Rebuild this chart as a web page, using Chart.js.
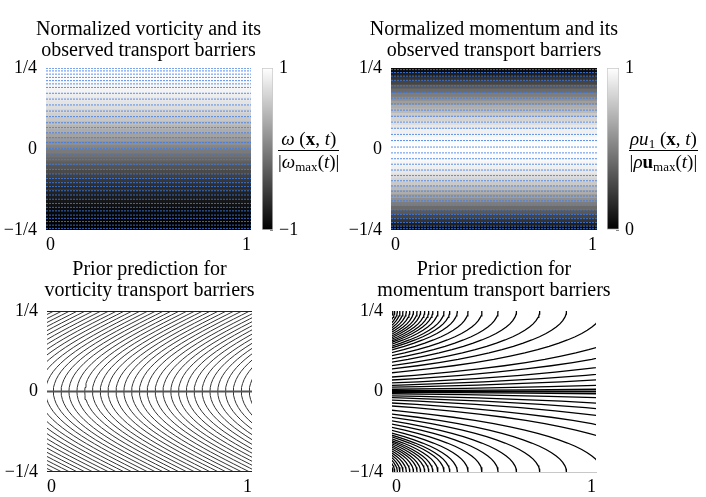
<!DOCTYPE html>
<html>
<head>
<meta charset="utf-8">
<script src="https://cdn.jsdelivr.net/npm/chart.js@4.4.1/dist/chart.umd.min.js"></script>
<style>
  body { margin: 0; background: #fff; }
  #fig { position: relative; width: 706px; height: 497px; font-family: "Liberation Serif", serif; color: #000; overflow: hidden; }
  canvas { position: absolute; }
  .frac { position: absolute; display: inline-block; text-align: center; font-size: 19px; line-height: 21px; white-space: nowrap; }
  .frac .num { border-bottom: 1px solid #000; padding: 0 1px 1px; }
  .frac sub { font-size: 13px; vertical-align: -3px; line-height: 0; }
  .frac b { font-weight: bold; }
</style>
</head>
<body>
<div id="fig">
  <canvas id="vortField" width="297" height="256" style="left:0;top:0"></canvas>
  <canvas id="vortBar" width="50" height="252" style="left:256px;top:0"></canvas>
  <canvas id="momField" width="298" height="256" style="left:345px;top:0"></canvas>
  <canvas id="momBar" width="40" height="252" style="left:601px;top:0"></canvas>
  <canvas id="vortPrior" width="299" height="247" style="left:0;top:250px"></canvas>
  <canvas id="momPrior" width="298" height="247" style="left:345px;top:250px"></canvas>

  <div class="frac" style="left:278px;top:128px">
    <div class="num"><i>ω</i> (<b>x</b>, <i>t</i>)</div>
    <div class="den">|<i>ω</i><sub>max</sub>(<i>t</i>)|</div>
  </div>
  <div class="frac" style="left:629px;top:128px">
    <div class="num"><i>ρu</i><sub>1</sub> (<b>x</b>, <i>t</i>)</div>
    <div class="den">|<i>ρ</i><b>u</b><sub>max</sub>(<i>t</i>)|</div>
  </div>
</div>
<script>
// axes
const xTicks = [0, 1];
const xTickLabels = ['0', '1'];
const yTicks = [-0.25, 0, 0.25];
const yTickLabels = ['\u22121/4', '0', '1/4'];

// rows of the two fields (row centres, bottom to top)
const rowY = [-0.24375, -0.23125, -0.21875, -0.20625, -0.19375, -0.18125, -0.16875, -0.15625, -0.14375, -0.13125,
  -0.11875, -0.10625, -0.09375, -0.08125, -0.06875, -0.05625, -0.04375, -0.03125, -0.01875, -0.00625,
  0.00625, 0.01875, 0.03125, 0.04375, 0.05625, 0.06875, 0.08125, 0.09375, 0.10625, 0.11875,
  0.13125, 0.14375, 0.15625, 0.16875, 0.18125, 0.19375, 0.20625, 0.21875, 0.23125, 0.24375];
const vortValues = [-1.00, -0.99, -0.98, -0.96, -0.94, -0.91, -0.87, -0.83, -0.79, -0.73,
  -0.68, -0.62, -0.56, -0.49, -0.42, -0.35, -0.27, -0.20, -0.12, -0.04,
  0.04, 0.12, 0.20, 0.27, 0.35, 0.42, 0.49, 0.56, 0.62, 0.68,
  0.73, 0.79, 0.83, 0.87, 0.91, 0.94, 0.96, 0.98, 0.99, 1.00];
const momValues = [0.04, 0.12, 0.20, 0.27, 0.35, 0.42, 0.49, 0.56, 0.62, 0.68,
  0.73, 0.79, 0.83, 0.87, 0.91, 0.94, 0.96, 0.98, 0.99, 1.00,
  1.00, 0.99, 0.98, 0.96, 0.94, 0.91, 0.87, 0.83, 0.79, 0.73,
  0.68, 0.62, 0.56, 0.49, 0.42, 0.35, 0.27, 0.20, 0.12, 0.04];

// observed barriers (blue dotted lines)
const vortObservedY = [0.249, 0.241, 0.231, 0.221, 0.211, 0.201, 0.190, 0.172, 0.154, 0.136, 0.117, 0.100,
  0.081, 0.066, 0.050, 0.035, 0.020, 0.002, -0.015, -0.032, -0.047, -0.063, -0.077, -0.091, -0.104,
  -0.116, -0.129, -0.142, -0.155, -0.168, -0.180, -0.191, -0.204, -0.214, -0.224, -0.235, -0.245];
const momObservedY = [0.245, 0.236, 0.225, 0.212, 0.195, 0.175, 0.157, 0.139, 0.120, 0.101, 0.083, 0.064,
  0.045, 0.026, 0.006, -0.012, -0.030, -0.047, -0.065, -0.082, -0.098, -0.114, -0.130, -0.145, -0.160,
  -0.174, -0.188, -0.202, -0.215, -0.227, -0.238, -0.246];

// colour bars (ticks with an empty label only get a small mark)
const vortRange = [-1, 1];
const vortBarTicks = [-1, -0.8, -0.6, -0.4, -0.2, 0, 0.2, 0.4, 0.6, 0.8, 1];
const vortBarLabels = ['\u22121', '', '', '', '', '', '', '', '', '', '1'];
const momRange = [0, 1];
const momBarTicks = [0, 0.1, 0.2, 0.3, 0.4, 0.5, 0.6, 0.7, 0.8, 0.9, 1];
const momBarLabels = ['0', '', '', '', '', '', '', '', '', '', '1'];

// prior vorticity barriers: shape of one curve [|y|, x shift] and where each crosses y = 0
const vortShape = [[0, 0], [0.0125, 0.0015], [0.025, 0.0062], [0.0375, 0.0138], [0.05, 0.0245], [0.0625, 0.038],
  [0.075, 0.0545], [0.0875, 0.0737], [0.1, 0.0955], [0.1125, 0.1198], [0.125, 0.1464], [0.1375, 0.1753],
  [0.15, 0.2061], [0.1625, 0.2388], [0.175, 0.273], [0.1875, 0.3087], [0.2, 0.3455], [0.2125, 0.3833],
  [0.225, 0.4218], [0.2375, 0.4608], [0.25, 0.5]];
const vortOffsets = [-0.504, -0.466, -0.427, -0.389, -0.351, -0.313, -0.275, -0.236, -0.198, -0.160, -0.122,
  -0.084, -0.045, -0.007, 0.031, 0.069, 0.107, 0.146, 0.184, 0.222, 0.260, 0.298, 0.337, 0.375, 0.413,
  0.451, 0.489, 0.528, 0.566, 0.604, 0.642, 0.680, 0.718, 0.757, 0.795, 0.833, 0.871, 0.909, 0.948, 0.987];
const vortWalls = [-0.25, 0.25];
const vortCentre = [0];

// prior momentum barriers: shape of one curve [|y|, x shift] and where each meets the wall
const momShape = [[0.0005, -5.76], [0.001, -5.07], [0.002, -4.38], [0.003, -3.97], [0.005, -3.46], [0.007, -3.12],
  [0.01, -2.77], [0.015, -2.36], [0.02, -2.08], [0.03, -1.67], [0.04, -1.39], [0.05, -1.17], [0.06, -1.0],
  [0.07, -0.854], [0.08, -0.73], [0.09, -0.624], [0.1, -0.531], [0.11, -0.451], [0.12, -0.379], [0.13, -0.316],
  [0.14, -0.26], [0.15, -0.212], [0.16, -0.17], [0.17, -0.132], [0.18, -0.1], [0.19, -0.073], [0.2, -0.05],
  [0.21, -0.032], [0.22, -0.018], [0.23, -0.008], [0.235, -0.0044], [0.24, -0.002], [0.245, -0.0005], [0.25, 0]];
const momShifts = [0.004, 0.013, 0.026, 0.039, 0.054, 0.07, 0.087, 0.105, 0.123, 0.14, 0.16, 0.18, 0.2, 0.225,
  0.255, 0.283, 0.32, 0.373, 0.441, 0.52, 0.61, 0.724, 0.855, 1.03, 1.28, 1.51, 1.8, 2.12, 2.5, 3.13, 4.12];
const momCentre = [0];

const serif = '"Liberation Serif", "DejaVu Serif", serif';
Chart.defaults.font.family = serif;
Chart.defaults.font.size = 18;
Chart.defaults.color = '#000';

// left axis with the tick labels, plus an empty right axis of the same width
// so that the two-line title sits centred over the plot
function axes(yWidth, xBorder) {
  return {
    x: {
      type: 'linear', min: 0, max: 1, offset: false,
      grid: { display: false, drawTicks: false },
      border: { display: !!xBorder, color: '#c8c8c8' },
      afterBuildTicks: s => { s.ticks = xTicks.map(v => ({ value: v })); },
      afterFit: s => { s.height = 22; },
      ticks: { padding: 4, maxRotation: 0, align: 'inner', callback: (v, i) => xTickLabels[i] }
    },
    y: {
      type: 'linear', min: -0.25, max: 0.25, offset: false,
      grid: { display: false, drawTicks: false },
      border: { display: false },
      afterBuildTicks: s => { s.ticks = yTicks.map(v => ({ value: v })); },
      afterFit: s => { s.width = yWidth; },
      ticks: { padding: 9, callback: (v, i) => yTickLabels[i] }
    },
    yr: {
      position: 'right', display: true,
      grid: { display: false, drawTicks: false },
      border: { display: false },
      ticks: { display: false },
      afterFit: s => { s.width = yWidth; }
    }
  };
}

function title(lines, top, bottom) {
  return {
    display: true, text: lines, color: '#000',
    font: { family: serif, size: 20, weight: 'normal', lineHeight: 1.05 },
    padding: { top: top, bottom: bottom }
  };
}

function hLine(y, color, width, dash) {
  return {
    type: 'line', indexAxis: 'x',
    data: [{ x: 0, y: y }, { x: 1, y: y }],
    borderColor: color, borderWidth: width, borderDash: dash || [],
    pointRadius: 0, fill: false
  };
}

function curve(points, color, width) {
  return { type: 'line', indexAxis: 'x', data: points, borderColor: color, borderWidth: width, pointRadius: 0, fill: false, tension: 0 };
}

const common = {
  responsive: false, animation: false, events: [],
  plugins: { legend: { display: false }, tooltip: { enabled: false } }
};

function fieldChart(id, lines, values, toGray, observed) {
  const datasets = observed.map(y => hLine(y, 'rgba(65,125,230,0.85)', 1, [2, 1]));
  datasets.push({
    type: 'bar', indexAxis: 'y',
    data: rowY.map(y => ({ x: [0, 1], y: y })),
    backgroundColor: values.map(v => { const g = Math.round(toGray(v) * 255); return `rgb(${g},${g},${g})`; }),
    borderWidth: 0, barPercentage: 1, categoryPercentage: 1
  });
  return new Chart(id, {
    type: 'scatter',
    data: { datasets },
    options: Object.assign({}, common, {
      layout: { padding: { bottom: 4 } },
      plugins: Object.assign({}, common.plugins, { title: title(lines, 19.5, 6.5) }),
      scales: axes(46)
    })
  });
}

function colourBar(id, range, ticks, labels, yWidth) {
  return new Chart(id, {
    type: 'bar',
    data: {
      labels: [''],
      datasets: [{
        data: [range],
        backgroundColor: ctx => {
          const a = ctx.chart.chartArea;
          if (!a) return '#888';
          const g = ctx.chart.ctx.createLinearGradient(0, a.bottom, 0, a.top);
          g.addColorStop(0, '#000');
          g.addColorStop(1, '#fff');
          return g;
        },
        borderColor: '#c8c8c8', borderWidth: 1, borderSkipped: false,
        barPercentage: 1, categoryPercentage: 1
      }]
    },
    options: Object.assign({}, common, {
      layout: { padding: { left: 6, top: 68, bottom: 22 } },
      scales: {
        x: { display: false },
        y: {
          position: 'right', min: range[0], max: range[1],
          grid: { display: true, drawOnChartArea: false, drawTicks: true, tickLength: -3, color: '#8a8a8a' },
          border: { display: false },
          afterBuildTicks: s => { s.ticks = ticks.map(v => ({ value: v })); },
          afterFit: s => { s.width = yWidth; },
          ticks: { padding: 9, autoSkip: false, callback: (v, i) => labels[i] }
        }
      }
    })
  });
}

fieldChart('vortField', ['Normalized vorticity and its', 'observed transport barriers'],
  vortValues, v => (v + 1) / 2, vortObservedY);
colourBar('vortBar', vortRange, vortBarTicks, vortBarLabels, 33);
fieldChart('momField', ['Normalized momentum and its', 'observed transport barriers'],
  momValues, v => v, momObservedY);
colourBar('momBar', momRange, momBarTicks, momBarLabels, 22);

// prior vorticity barriers
const vortSets = [];
vortWalls.forEach(y => vortSets.push(hLine(y, '#222', 2)));
vortCentre.forEach(y => vortSets.push(hLine(y, '#555', 2)));
vortOffsets.forEach(s => {
  const pts = [];
  for (let i = vortShape.length - 1; i > 0; i--) pts.push({ x: s + vortShape[i][1], y: -vortShape[i][0] });
  vortShape.forEach(([y, dx]) => pts.push({ x: s + dx, y: y }));
  vortSets.push(curve(pts, '#333', 1));
});
new Chart('vortPrior', {
  type: 'scatter',
  data: { datasets: vortSets },
  options: Object.assign({}, common, {
    layout: { padding: { bottom: 3 } },
    plugins: Object.assign({}, common.plugins, { title: title(['Prior prediction for', 'vorticity transport barriers'], 9.5, 9.5) }),
    scales: axes(47)
  })
});

// prior momentum barriers
const momSets = [];
momCentre.forEach(y => momSets.push(hLine(y, '#000', 2)));
momShifts.forEach(s => {
  momSets.push(curve(momShape.map(([y, dx]) => ({ x: s + dx, y: y })), '#000', 1.3));
  momSets.push(curve(momShape.map(([y, dx]) => ({ x: s + dx, y: -y })), '#000', 1.3));
});
new Chart('momPrior', {
  type: 'scatter',
  data: { datasets: momSets },
  options: Object.assign({}, common, {
    layout: { padding: { bottom: 3 } },
    plugins: Object.assign({}, common.plugins, { title: title(['Prior prediction for', 'momentum transport barriers'], 9.5, 9.5) }),
    scales: axes(47, true)
  })
});
</script>
</body>
</html>
